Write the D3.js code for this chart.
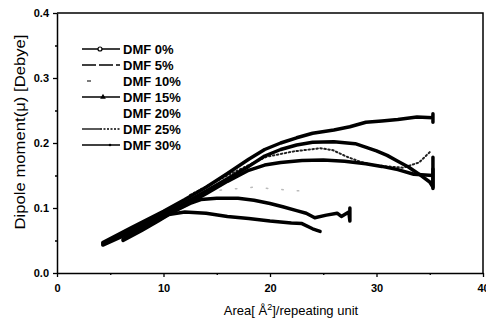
<!DOCTYPE html>
<html>
<head>
<meta charset="utf-8">
<script src="https://cdn.jsdelivr.net/npm/d3@7"></script>
<style>
  body { margin: 0; background: #fff; }
  svg { display: block; font-family: "Liberation Sans", Arial, sans-serif; }
</style>
</head>
<body>
<div id="chart"></div>
<script>
// series: [area, dipole moment]
const dmf0 = [[4.3,0.047],[7,0.07],[10,0.095],[12,0.113],[14,0.132],[16,0.153],[18,0.175],[19.5,0.19],[21,0.2],[22.5,0.208],[24,0.215],[26,0.22],[27.5,0.225],[29,0.232],[30.5,0.234],[32,0.236],[33.8,0.24],[35.3,0.239],[35.3,0.232],[35.3,0.245]];
const dmf5 = [[4.3,0.045],[7,0.067],[10,0.091],[12,0.108],[14,0.126],[16,0.145],[18,0.164],[19.5,0.18],[21,0.19],[22.5,0.197],[24,0.201],[26,0.202],[28,0.199],[30,0.188],[31,0.181],[32,0.172],[33,0.163],[34,0.152],[35,0.14],[35.3,0.132],[35.3,0.178]];
const dmf10 = [[12.5,0.12],[14,0.133],[16,0.15],[18,0.166],[19.7,0.179],[22.2,0.187],[24.7,0.192],[25.9,0.189],[27.2,0.179],[28.5,0.171],[29.7,0.166],[31,0.164],[32.5,0.162],[34,0.17],[35,0.186]];
const dmf15 = [[4.3,0.043],[7,0.063],[10,0.087],[12,0.104],[14,0.122],[16,0.141],[18,0.158],[19.5,0.166],[21,0.17],[23,0.173],[25,0.174],[27,0.172],[29,0.168],[30.5,0.164],[32,0.159],[33.5,0.152],[35.3,0.15],[35.3,0.13],[35.3,0.16]];
const dmf20 = [[12.5,0.115],[15,0.127],[18.4,0.132],[20.6,0.129],[23,0.126]];
const dmf25 = [[6.2,0.052],[8,0.068],[10,0.086],[11.5,0.099],[12.5,0.107],[13.5,0.113],[15,0.115],[17,0.115],[18.5,0.112],[20,0.107],[21.2,0.102],[22.5,0.096],[23.4,0.092],[24.2,0.085],[25.3,0.089],[26.3,0.092],[26.7,0.087],[27.4,0.094],[27.5,0.08],[27.5,0.1]];
const dmf30 = [[6.2,0.05],[8,0.066],[9.5,0.08],[10.5,0.09],[12,0.094],[14,0.092],[16,0.087],[18,0.084],[20,0.08],[22,0.077],[23,0.076],[24,0.068],[24.7,0.064]];

const seriesNames = ["DMF 0%", "DMF 5%", "DMF 10%", "DMF 15%", "DMF 20%", "DMF 25%", "DMF 30%"];
const seriesData = [dmf0, dmf5, dmf10, dmf15, dmf20, dmf25, dmf30];

const xTicks = [0, 10, 20, 30, 40];
const xMinor = [5, 15, 25, 35];
const yTicks = [0.0, 0.1, 0.2, 0.3, 0.4];
const yMinor = [0.05, 0.15, 0.25, 0.35];

// how each series is drawn on the plot and in the legend
const styles = [
	{ color: "#000", width: 3.5, dash: null, legend: "circle" },
	{ color: "#000", width: 3.5, dash: null, legend: "dash" },
	{ color: "#222", width: 2, dash: "1.5,2.5", legend: "dot" },
	{ color: "#000", width: 3.5, dash: null, legend: "triangle" },
	{ color: "#bbb", width: 1.5, dash: "1.5,14", legend: "none" },
	{ color: "#000", width: 3.5, dash: null, legend: "dashdot" },
	{ color: "#000", width: 3.5, dash: null, legend: "small" }
];

const W = 486, H = 323;
const svg = d3.select("#chart").append("svg").attr("width", W).attr("height", H);

const x = d3.scaleLinear().domain([0, 40]).range([57, 483]);
const y = d3.scaleLinear().domain([0, 0.4]).range([273, 13]);

// frame (top + right)
svg.append("path")
	.attr("d", `M${x(0)},${y(0.4)}H${x(40)}V${y(0)}`)
	.attr("fill", "none").attr("stroke", "#000").attr("stroke-width", 1.5);

svg.append("g").attr("transform", `translate(0,${y(0)})`)
	.call(d3.axisBottom(x).tickValues(xTicks).tickSize(4).tickSizeOuter(0).tickPadding(7).tickFormat(d3.format("d")));
svg.append("g").attr("transform", `translate(0,${y(0)})`)
	.call(d3.axisBottom(x).tickValues(xMinor).tickSize(2).tickSizeOuter(0).tickFormat(""))
	.call(g => g.select(".domain").remove());

svg.append("g").attr("transform", `translate(${x(0)},0)`)
	.call(d3.axisLeft(y).tickValues(yTicks).tickSize(4).tickSizeOuter(0).tickPadding(4).tickFormat(d3.format(".1f")));
svg.append("g").attr("transform", `translate(${x(0)},0)`)
	.call(d3.axisLeft(y).tickValues(yMinor).tickSize(2).tickSizeOuter(0).tickFormat(""))
	.call(g => g.select(".domain").remove());

svg.selectAll(".domain").attr("stroke-width", 1.5);
svg.selectAll(".tick line").attr("stroke-width", 1.3);
svg.selectAll(".tick text")
	.attr("font-family", "Liberation Sans, Arial, sans-serif")
	.attr("font-size", 11).attr("font-weight", "bold").attr("fill", "#000");

// axis titles
svg.append("text")
	.attr("transform", `translate(25,132) rotate(-90)`)
	.attr("text-anchor", "middle")
	.attr("font-size", 15)
	.attr("textLength", 195).attr("lengthAdjust", "spacingAndGlyphs")
	.text("Dipole moment(\u03bc) [Debye]");

const xTitle = svg.append("text")
	.attr("x", 291).attr("y", 315)
	.attr("text-anchor", "middle")
	.attr("font-size", 13);
xTitle.append("tspan").text("Area[ \u00c5");
xTitle.append("tspan").attr("font-size", 9).attr("dy", -5).text("2");
xTitle.append("tspan").attr("dy", 5).text("]/repeating unit");

// curves
const line = d3.line().x(d => x(d[0])).y(d => y(d[1]));
const order = [4, 2, 6, 5, 3, 1, 0];
svg.append("g").selectAll("path")
	.data(order)
	.join("path")
	.attr("d", i => line(seriesData[i]))
	.attr("fill", "none")
	.attr("stroke", i => styles[i].color)
	.attr("stroke-width", i => styles[i].width)
	.attr("stroke-dasharray", i => styles[i].dash)
	.attr("stroke-linejoin", "round")
	.attr("stroke-linecap", "round");

// legend
const legX0 = 82, legX1 = 120, legY0 = 49, legStep = 16;
const leg = svg.append("g");
seriesNames.forEach((name, i) => {
	const cy = legY0 + i * legStep;
	const kind = styles[i].legend;
	const g = leg.append("g");
	if (kind === "circle" || kind === "triangle" || kind === "small") {
		g.append("line").attr("x1", legX0).attr("x2", legX1).attr("y1", cy).attr("y2", cy)
			.attr("stroke", "#000").attr("stroke-width", 1.3);
		if (kind === "circle")
			g.append("circle").attr("cx", 100).attr("cy", cy).attr("r", 2)
				.attr("fill", "#fff").attr("stroke", "#000").attr("stroke-width", 1.2);
		if (kind === "triangle")
			g.append("path").attr("d", d3.symbol(d3.symbolTriangle, 14)).attr("transform", `translate(103,${cy})`);
		if (kind === "small")
			g.append("circle").attr("cx", 110).attr("cy", cy).attr("r", 1.3);
	} else if (kind === "dash") {
		g.append("line").attr("x1", legX0).attr("x2", legX1).attr("y1", cy).attr("y2", cy)
			.attr("stroke", "#000").attr("stroke-width", 1.3).attr("stroke-dasharray", "14,3");
	} else if (kind === "dot") {
		g.append("line").attr("x1", 87).attr("x2", 91).attr("y1", cy).attr("y2", cy)
			.attr("stroke", "#333").attr("stroke-width", 1.3);
	} else if (kind === "dashdot") {
		g.append("line").attr("x1", legX0).attr("x2", 100).attr("y1", cy).attr("y2", cy)
			.attr("stroke", "#000").attr("stroke-width", 1.3);
		g.append("line").attr("x1", 100).attr("x2", legX1).attr("y1", cy).attr("y2", cy)
			.attr("stroke", "#000").attr("stroke-width", 1.3).attr("stroke-dasharray", "2,1.5");
	}
	g.append("text").attr("x", 123).attr("y", cy + 4.5)
		.attr("font-size", 13).attr("font-weight", "bold").text(name);
});
</script>
</body>
</html>
